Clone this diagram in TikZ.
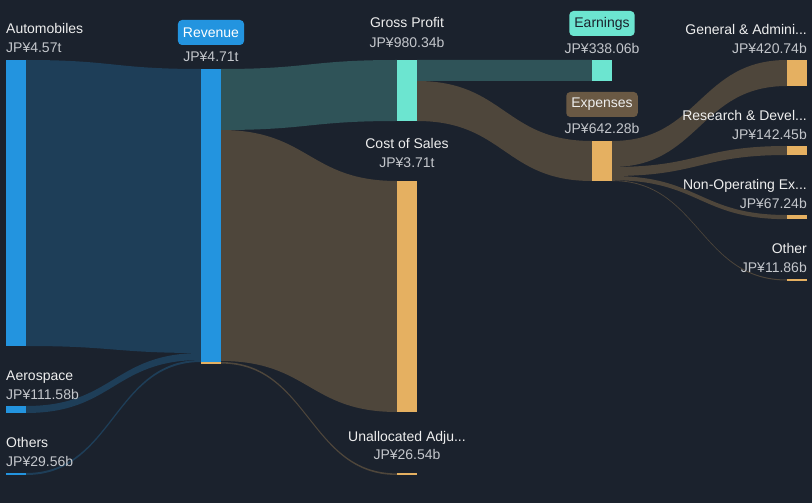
\documentclass[tikz,border=0pt]{standalone}
\usepackage{fontspec}
\setmainfont{Liberation Sans}
\definecolor{bgnavy}{RGB}{27,34,45}
\definecolor{barblue}{RGB}{35,148,223}
\definecolor{flowblue}{RGB}{30,62,88}
\definecolor{barteal}{RGB}{108,229,208}
\definecolor{flowteal}{RGB}{47,83,88}
\definecolor{barorange}{RGB}{229,176,97}
\definecolor{flowbrown}{RGB}{78,70,59}
\definecolor{pillbrown}{RGB}{106,89,68}
\definecolor{nametext}{RGB}{238,238,238}
\definecolor{valuetext}{RGB}{196,199,204}
\def\flow[#1](#2,#3,#4)(#5,#6,#7){\fill[#1] (#2,#3) .. controls ({(#2+#5)/2},#3) and ({(#2+#5)/2},#6) .. (#5,#6) -- (#5,#7) .. controls ({(#2+#5)/2},#7) and ({(#2+#5)/2},#4) .. (#2,#4) -- cycle;}
\tikzset{
  itemlbl/.style={text=nametext, inner sep=0pt, font=\fontsize{14bp}{16bp}\selectfont},
  itemamt/.style={text=valuetext, inner sep=0pt, font=\fontsize{14bp}{16bp}\selectfont},
  pill/.style={rounded corners=4bp, inner xsep=5bp, minimum height=25bp, font=\fontsize{14bp}{16bp}\selectfont}
}
\begin{document}
\begin{tikzpicture}[x=1bp, y=-1bp]
			%%%%% CANVAS %%%%%
			\fill[bgnavy] (0,0) rectangle (812,503);
			\useasboundingbox (0,0) rectangle (812,503);
			
			%%%%% FLOWS %%%%%
			\flow[flowblue](26,60,346)(201,69,353)
			\flow[flowblue](26,406,413)(201,353,360)
			\flow[flowblue](26,473,475)(201,360,362)
			
			\flow[flowteal](221,69,130)(397,60,121)
			\flow[flowbrown](221,130,361)(397,181,412)
			\flow[flowbrown](221,362,363.6)(397,473.4,475)
			
			\flow[flowteal](417,60,81)(592,60,81)
			\flow[flowbrown](417,81,121)(592,141,181)
			
			\flow[flowbrown](612,141,167)(787,60,86)
			\flow[flowbrown](612,167,176)(787,146,155)
			\flow[flowbrown](612,176,180.2)(787,215,219.2)
			\flow[flowbrown](612,180.2,181)(787,279.5,280.5)
			
			%%%%% BARS %%%%%
			\fill[barblue] (6,60) rectangle (26,346);
			\fill[barblue] (6,406) rectangle (26,413);
			\fill[barblue] (6,473) rectangle (26,475);
			
			\fill[barblue] (201,69) rectangle (221,362);
			\fill[barorange] (201,362) rectangle (221,363.6);
			
			\fill[barteal] (397,60) rectangle (417,121);
			\fill[barorange] (397,181) rectangle (417,412);
			\fill[barorange] (397,473) rectangle (417,475);
			
			\fill[barteal] (592,60) rectangle (612,81);
			\fill[barorange] (592,141) rectangle (612,181);
			
			\fill[barorange] (787,60) rectangle (807,86);
			\fill[barorange] (787,146) rectangle (807,155);
			\fill[barorange] (787,215) rectangle (807,219);
			\fill[barorange] (787,279) rectangle (807,281);
			
			%%%%% LABELS %%%%%
			\node[itemlbl, anchor=base west] (autoname) at (6,34) {Automobiles};
			\node[itemamt, anchor=base west] (autoval) at (6,53) {JP¥4.57t};
			\node[itemlbl, anchor=base west] (aeroname) at (6,380) {Aerospace};
			\node[itemamt, anchor=base west] (aeroval) at (6,399) {JP¥111.58b};
			\node[itemlbl, anchor=base west] (othsname) at (6,447) {Others};
			\node[itemamt, anchor=base west] (othsval) at (6,466) {JP¥29.56b};
			
			\node[pill, fill=barblue, text=white] (revname) at (211,32.5) {Revenue};
			\node[itemamt, anchor=base] (revval) at (211,62) {JP¥4.71t};
			
			\node[itemlbl, anchor=base] (gpname) at (407,28) {Gross Profit};
			\node[itemamt, anchor=base] (gpval) at (407,48) {JP¥980.34b};
			\node[itemlbl, anchor=base] (cosname) at (407,149) {Cost of Sales};
			\node[itemamt, anchor=base] (cosval) at (407,168) {JP¥3.71t};
			\node[itemlbl, anchor=base] (unaname) at (407,441) {Unallocated Adju...};
			\node[itemamt, anchor=base] (unaval) at (407,459.5) {JP¥26.54b};
			
			\node[pill, fill=barteal, text=bgnavy] (earnname) at (602,23.5) {Earnings};
			\node[itemamt, anchor=base] (earnval) at (602,53.5) {JP¥338.06b};
			\node[pill, fill=pillbrown, text=nametext] (expname) at (602,104.5) {Expenses};
			\node[itemamt, anchor=base] (expval) at (602,134) {JP¥642.28b};
			
			\node[itemlbl, anchor=base east] (ganame) at (807,34.5) {General \& Admini...};
			\node[itemamt, anchor=base east] (gaval) at (807,53.5) {JP¥420.74b};
			\node[itemlbl, anchor=base east] (rdname) at (807,121) {Research \& Devel...};
			\node[itemamt, anchor=base east] (rdval) at (807,139.5) {JP¥142.45b};
			\node[itemlbl, anchor=base east] (noname) at (807,189.5) {Non-Operating Ex...};
			\node[itemamt, anchor=base east] (noval) at (807,208.5) {JP¥67.24b};
			\node[itemlbl, anchor=base east] (othname) at (807,253.5) {Other};
			\node[itemamt, anchor=base east] (othval) at (807,272.5) {JP¥11.86b};
			
			%%%%% END %%%%%
\end{tikzpicture}
\end{document}
